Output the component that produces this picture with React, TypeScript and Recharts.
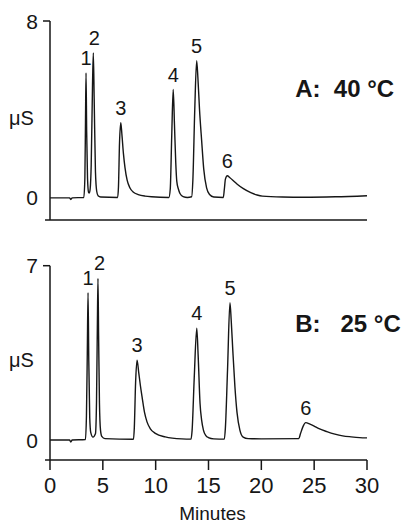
import { ComposedChart, Line, XAxis, YAxis, ReferenceLine, ReferenceDot } from 'recharts'

// time axis (minutes) and conductivity axis ticks
const minuteTicks = [0, 5, 10, 15, 20, 25, 30]
const ticksA = [0, 8]
const ticksB = [0, 7]

// chromatogram A, 40 °C: [minutes, µS]
const traceA: [number, number][] = [
  [0, 0], [1.85, 0], [1.97, -0.07], [2.1, 0], [3.2, 0.02], [3.3, 0.9], [3.36, 3.5],
  [3.41, 5.65], [3.47, 3.0], [3.55, 0.9], [3.65, 0.25], [3.72, 0.22], [3.8, 0.4],
  [3.9, 1.5], [4.02, 5.0], [4.1, 6.56], [4.18, 4.5], [4.3, 1.2], [4.42, 0.3], [4.55, 0.1],
  [4.8, 0.04], [6.4, 0.02], [6.48, 0.5], [6.58, 2.5], [6.7, 3.4], [6.8, 2.9], [6.95, 2.0],
  [7.1, 1.36], [7.3, 0.8], [7.57, 0.45], [7.9, 0.25], [8.35, 0.15], [9.0, 0.08], [9.6, 0.05],
  [11.25, 0.02], [11.38, 0.4], [11.52, 2.8], [11.66, 4.9], [11.78, 3.3], [11.9, 1.6],
  [12.0, 0.75], [12.15, 0.4], [12.3, 0.2], [12.6, 0.06], [13.0, 0.02], [13.4, 0.05],
  [13.52, 0.8], [13.7, 4.0], [13.88, 6.2], [14.0, 5.4], [14.15, 4.0], [14.35, 2.6],
  [14.55, 1.3], [14.82, 0.45], [15.1, 0.15], [15.5, 0.04], [16.4, 0.02], [16.5, 0.4],
  [16.6, 0.85], [16.78, 1.0], [17.0, 0.92], [17.3, 0.8], [17.72, 0.62], [18.3, 0.42],
  [19.0, 0.24], [19.6, 0.13], [20.1, 0.08], [22, 0.04], [24, 0.03], [27, 0.05], [30, 0.1],
]

// chromatogram B, 25 °C: [minutes, µS]
const traceB: [number, number][] = [
  [0, 0], [1.85, 0], [1.97, -0.08], [2.1, 0], [3.35, 0.02], [3.45, 1.0], [3.53, 3.5],
  [3.6, 5.92], [3.67, 3.2], [3.76, 0.9], [3.86, 0.3], [4.07, 0.12], [4.3, 0.25], [4.4, 1.5],
  [4.48, 4.5], [4.54, 6.49], [4.6, 4.2], [4.68, 1.5], [4.78, 0.4], [4.9, 0.15], [5.2, 0.06],
  [7.9, 0.03], [7.98, 0.5], [8.1, 2.3], [8.24, 3.21], [8.4, 2.7], [8.55, 2.2], [8.71, 1.74],
  [8.95, 1.1], [9.18, 0.73], [9.5, 0.45], [9.97, 0.27], [10.9, 0.13], [12.47, 0.05],
  [13.35, 0.04], [13.45, 0.4], [13.65, 2.5], [13.89, 4.49], [14.02, 3.4], [14.2, 1.47],
  [14.35, 0.8], [14.52, 0.4], [14.75, 0.18], [14.99, 0.1], [15.5, 0.05], [16.5, 0.04],
  [16.6, 0.5], [16.8, 2.8], [17.03, 5.51], [17.15, 4.8], [17.3, 3.6], [17.5, 2.14],
  [17.7, 1.1], [17.97, 0.4], [18.28, 0.12], [18.75, 0.06], [20, 0.05], [23.55, 0.06],
  [23.7, 0.25], [23.95, 0.55], [24.2, 0.7], [24.6, 0.64], [25.0, 0.56], [25.4, 0.47],
  [26.2, 0.34], [26.96, 0.24], [27.7, 0.17], [28.5, 0.13], [29.3, 0.1], [30, 0.09],
]

// peak apexes: [label, minutes, µS]
const peaksA: [string, number, number][] = [
  ['1', 3.41, 5.65], ['2', 4.2, 6.56], ['3', 6.7, 3.4], ['4', 11.66, 4.9], ['5', 13.88, 6.2], ['6', 16.78, 1.0],
]
const peaksB: [string, number, number][] = [
  ['1', 3.6, 5.92], ['2', 4.7, 6.49], ['3', 8.24, 3.21], ['4', 13.89, 4.49], ['5', 17.03, 5.51], ['6', 24.2, 0.7],
]

const INK = '#161616'
const FONT = '"Liberation Sans", Arial, Helvetica, sans-serif'

interface PanelProps {
  trace: [number, number][]
  peaks: [string, number, number][]
  yTicks: number[]
  yMin: number
  title: string
  titleAt: [number, number]
  height: number
  top: number
  tickSize: number
  xAxisHeight: number
  showMinutes: boolean
}

function Panel({ trace, peaks, yTicks, yMin, title, titleAt, height, top, tickSize, xAxisHeight, showMinutes }: PanelProps) {
  const rows = trace.map(([t, v]) => ({ t, v }))
  const yMax = yTicks[yTicks.length - 1]

  return (
    <ComposedChart width={408} height={height} margin={{ top, right: 41, bottom: 0, left: 0 }}>
      <XAxis
        dataKey="t"
        type="number"
        domain={[0, 30]}
        ticks={minuteTicks}
        axisLine={false}
        tickLine={{ stroke: INK, strokeWidth: 1.5 }}
        tickSize={tickSize}
        tickMargin={7}
        height={xAxisHeight}
        tick={showMinutes ? { fontSize: 22, fill: INK } : false}
        label={
          showMinutes
            ? {
                content: ({ viewBox }: any) => (
                  <text x={viewBox.x + viewBox.width / 2 + 4} y={viewBox.y + 53} textAnchor="middle" dominantBaseline="central" fontSize={19} fill={INK}>
                    Minutes
                  </text>
                ),
              }
            : undefined
        }
      />
      <YAxis
        type="number"
        domain={[yMin, yMax]}
        ticks={yTicks}
        width={50}
        axisLine={{ stroke: INK, strokeWidth: 1.5 }}
        tickLine={false}
        tickSize={7}
        tickMargin={5}
        tick={({ x, y, payload }: any) => (
          <g>
            {payload.value === yMax && <line x1={x + 5} x2={x + 12} y1={y} y2={y} stroke={INK} strokeWidth={1.5} />}
            <text x={x} y={y} textAnchor="end" dominantBaseline="central" fontSize={21} fill={INK}>
              {payload.value}
            </text>
          </g>
        )}
        label={{
          content: ({ viewBox }: any) => (
            <text x={21.5} y={viewBox.y + viewBox.height / 2 - 3} textAnchor="middle" dominantBaseline="central" fontSize={20} fill={INK}>
              μS
            </text>
          ),
        }}
      />
      <ReferenceLine
        segment={[{ x: -0.47, y: yMin }, { x: 30, y: yMin }]}
        ifOverflow="visible"
        stroke={INK}
        strokeWidth={1.5}
      />
      <Line data={rows} dataKey="v" type="monotone" dot={false} stroke={INK} strokeWidth={1.4} isAnimationActive={false} />
      {peaks.map(([n, t, h]) => (
        <ReferenceDot
          key={n}
          x={t}
          y={h}
          r={0}
          ifOverflow="visible"
          shape={(p: any) => (
            <text x={p.cx} y={p.cy - 15} textAnchor="middle" dominantBaseline="central" fontSize={20} fill={INK}>
              {n}
            </text>
          )}
        />
      ))}
      <ReferenceDot
        x={titleAt[0]}
        y={titleAt[1]}
        r={0}
        ifOverflow="visible"
        shape={(p: any) => (
          <text x={p.cx} y={p.cy} textAnchor="start" dominantBaseline="central" fontSize={24} fontWeight="bold" fill={INK} style={{ whiteSpace: 'pre' }}>
            {title}
          </text>
        )}
      />
    </ComposedChart>
  )
}

export default function App() {
  return (
    <div style={{ position: 'absolute', left: 0, top: 0, width: 408, height: 522, background: '#fff', fontFamily: FONT }}>
      <div style={{ position: 'absolute', left: 0, top: 0 }}>
        <Panel
          trace={traceA}
          peaks={peaksA}
          yTicks={ticksA}
          yMin={-1}
          title="A:  40 °C"
          titleAt={[23.2, 4.94]}
          height={240}
          top={21}
          tickSize={12}
          xAxisHeight={20}
          showMinutes={false}
        />
      </div>
      <div style={{ position: 'absolute', left: 0, top: 240 }}>
        <Panel
          trace={traceB}
          peaks={peaksB}
          yTicks={ticksB}
          yMin={-0.8}
          title="B:   25 °C"
          titleAt={[23.2, 4.69]}
          height={282}
          top={25.7}
          tickSize={10}
          xAxisHeight={62}
          showMinutes={true}
        />
      </div>
    </div>
  )
}
